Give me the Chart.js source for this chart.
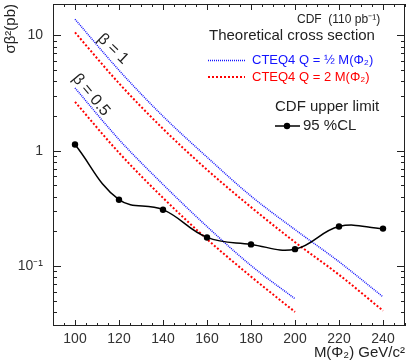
<!DOCTYPE html>
<html>
<head>
<meta charset="utf-8">
<script src="https://cdn.jsdelivr.net/npm/chart.js@4.4.0/dist/chart.umd.min.js"></script>
<style>
  html, body { margin: 0; padding: 0; background: #fff; }
</style>
</head>
<body>
<canvas id="grafica" width="409" height="362"></canvas>
<script>
// --- datos ---
const masas      = [100, 120, 140, 160, 180, 200, 220, 240];
const masasBeta5 = [100, 120, 140, 160, 180, 200];
const limite95   = [1.13, 0.376, 0.308, 0.177, 0.154, 0.140, 0.220, 0.211];
// beta = 1
const xsecMitadQ = [13.8, 4.98, 1.99, 0.88, 0.404, 0.207, 0.109, 0.054];
const xsecDobleQ = [10.6, 3.84, 1.55, 0.684, 0.324, 0.161, 0.084, 0.041];
// beta = 0.5
const xsecMitadQb5 = [3.5, 1.25, 0.51, 0.22, 0.101, 0.052];
const xsecDobleQb5 = [2.65, 0.96, 0.39, 0.171, 0.081, 0.040];

const ticksX = [100, 120, 140, 160, 180, 200, 220, 240];
const ticksY = [0.1, 1, 10];
const etiquetasY = { 0.1: '10\u207B\u00B9', 1: '1', 10: '10' };

const FUENTE = '"Liberation Sans", Arial, sans-serif';
const AZUL = 'rgb(20,20,255)';
const ROJO = 'rgb(255,0,0)';

const puntos = (xs, ys) => xs.map((x, i) => ({ x: x, y: ys[i] }));

// marco, marcas hacia dentro, leyenda y textos
const decoracion = {
    id: 'decoracion',
    afterDraw(chart) {
        const ctx = chart.ctx;
        const a = chart.chartArea;
        const sx = chart.scales.x;
        const sy = chart.scales.y;
        ctx.save();
        ctx.strokeStyle = '#222';
        ctx.lineWidth = 1;
        ctx.strokeRect(a.left + 0.5, a.top + 0.5, a.right - a.left - 1, a.bottom - a.top - 1);

        // marcas eje x
        ctx.beginPath();
        for (let v = 90; v <= 250; v += 5) {
            const px = Math.round(sx.getPixelForValue(v)) + 0.5;
            const largo = (v % 20 === 0) ? 6 : 3;
            ctx.moveTo(px, a.bottom); ctx.lineTo(px, a.bottom - largo);
            ctx.moveTo(px, a.top); ctx.lineTo(px, a.top + largo);
        }
        // marcas eje y (log)
        for (let e = -2; e <= 1; e++) {
            for (let m = 1; m <= 9; m++) {
                const v = m * Math.pow(10, e);
                if (v < sy.min || v > sy.max) continue;
                const py = Math.round(sy.getPixelForValue(v)) + 0.5;
                const largo = (m === 1) ? 8 : 4;
                ctx.moveTo(a.left, py); ctx.lineTo(a.left + largo, py);
                ctx.moveTo(a.right, py); ctx.lineTo(a.right - largo, py);
            }
        }
        ctx.stroke();

        // textos de leyenda
        ctx.fillStyle = '#222';
        ctx.textBaseline = 'middle';
        ctx.textAlign = 'left';
        ctx.font = '12px ' + FUENTE;
        ctx.fillText('CDF  (110 pb\u207B\u00B9)', 297, 20);
        ctx.font = '15px ' + FUENTE;
        ctx.fillText('Theoretical cross section', 209, 36);

        ctx.font = '13px ' + FUENTE;
        ctx.lineWidth = 1.5;
        ctx.strokeStyle = AZUL;
        ctx.setLineDash([1, 1]);
        ctx.beginPath(); ctx.moveTo(208, 60.5); ctx.lineTo(245, 60.5); ctx.stroke();
        ctx.fillStyle = AZUL;
        ctx.fillText('CTEQ4 Q = \u00BD M(\u03A6\u2082)', 252, 60);

        ctx.lineWidth = 2;
        ctx.strokeStyle = ROJO;
        ctx.setLineDash([2, 2]);
        ctx.beginPath(); ctx.moveTo(208, 77); ctx.lineTo(245, 77); ctx.stroke();
        ctx.fillStyle = ROJO;
        ctx.fillText('CTEQ4 Q = 2 M(\u03A6\u2082)', 252, 77);
        ctx.setLineDash([]);

        ctx.fillStyle = '#222';
        ctx.font = '15px ' + FUENTE;
        ctx.fillText('CDF upper limit', 275, 107);
        ctx.strokeStyle = '#000';
        ctx.lineWidth = 1.5;
        ctx.beginPath(); ctx.moveTo(275, 126); ctx.lineTo(300, 126); ctx.stroke();
        ctx.fillStyle = '#000';
        ctx.beginPath(); ctx.arc(287, 126, 3.2, 0, Math.PI * 2); ctx.fill();
        ctx.fillStyle = '#222';
        ctx.fillText('95 %CL', 303, 126);

        // etiquetas beta
        ctx.font = '16px ' + FUENTE;
        ctx.textAlign = 'center';
        ctx.save();
        ctx.translate(113, 49);
        ctx.rotate(44 * Math.PI / 180);
        ctx.fillText('\u03B2 = 1', 0, 0);
        ctx.restore();
        ctx.save();
        ctx.translate(91, 95);
        ctx.rotate(50 * Math.PI / 180);
        ctx.fillText('\u03B2 = 0.5', 0, 0);
        ctx.restore();
        ctx.restore();
    }
};

const lineaTeoria = (datos, color, ancho, trazo) => ({
    data: datos,
    borderColor: color,
    borderWidth: ancho,
    borderDash: trazo,
    pointRadius: 0,
    fill: false,
    cubicInterpolationMode: 'monotone'
});

new Chart(document.getElementById('grafica'), {
    type: 'line',
    data: {
        datasets: [
            {
                label: '95 %CL',
                data: puntos(masas, limite95),
                borderColor: '#000',
                backgroundColor: '#000',
                borderWidth: 1.5,
                pointRadius: 3.2,
                pointBorderWidth: 0,
                tension: 0.4,
                fill: false
            },
            lineaTeoria(puntos(masas, xsecMitadQ), AZUL, 1.5, [1, 1]),
            lineaTeoria(puntos(masas, xsecDobleQ), ROJO, 2, [2, 2]),
            lineaTeoria(puntos(masasBeta5, xsecMitadQb5), AZUL, 1.5, [1, 1]),
            lineaTeoria(puntos(masasBeta5, xsecDobleQb5), ROJO, 2, [2, 2])
        ]
    },
    options: {
        responsive: false,
        animation: false,
        events: [],
        layout: { padding: { top: 3, right: 2, left: 0, bottom: 0 } },
        plugins: { legend: { display: false }, tooltip: { enabled: false } },
        scales: {
            x: {
                type: 'linear',
                min: 90,
                max: 250,
                grid: { display: false, drawTicks: false },
                border: { display: false },
                afterBuildTicks: (s) => { s.ticks = ticksX.map(v => ({ value: v })); },
                afterFit: (s) => { s.height = 36; s.paddingLeft = 0; s.paddingRight = 0; },
                ticks: {
                    padding: 5,
                    color: '#333',
                    font: { family: FUENTE, size: 14 },
                    maxRotation: 0
                },
                title: {
                    display: true,
                    text: 'M(\u03A6\u2082) GeV/c\u00B2',
                    align: 'end',
                    color: '#222',
                    font: { family: FUENTE, size: 15 },
                    padding: { top: 0, bottom: 0 }
                }
            },
            y: {
                type: 'logarithmic',
                min: 0.0302,
                max: 18.7,
                grid: { display: false, drawTicks: false },
                border: { display: false },
                afterBuildTicks: (s) => { s.ticks = ticksY.map(v => ({ value: v })); },
                afterFit: (s) => { s.width = 53; s.paddingTop = 0; s.paddingBottom = 0; },
                ticks: {
                    padding: 10,
                    color: '#333',
                    font: { family: FUENTE, size: 14 },
                    callback: (v) => etiquetasY[v] || ''
                },
                title: {
                    display: true,
                    text: '\u03C3\u03B2\u00B2(pb)',
                    align: 'end',
                    color: '#222',
                    font: { family: FUENTE, size: 15 },
                    padding: { top: 2, bottom: 0 }
                }
            }
        }
    },
    plugins: [decoracion]
});
</script>
</body>
</html>
